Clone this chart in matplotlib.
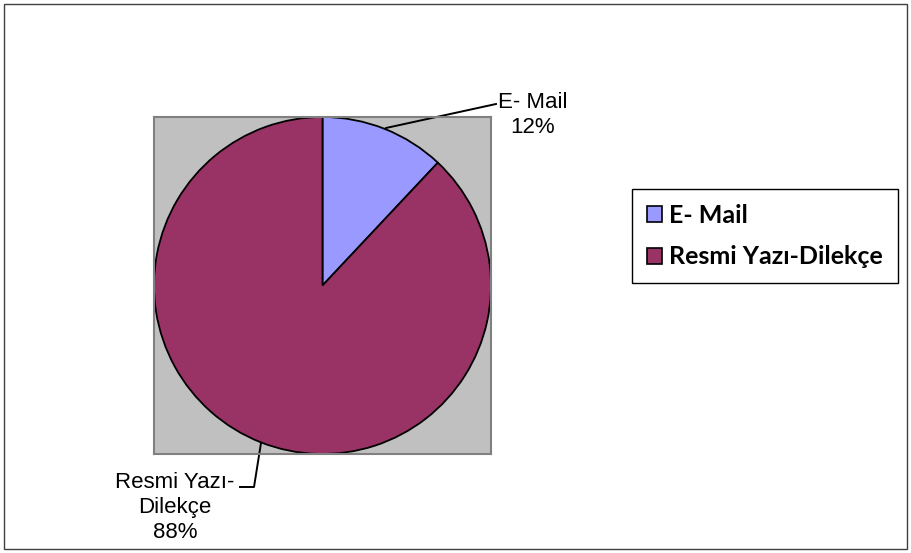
import matplotlib.pyplot as plt
from matplotlib.patches import Rectangle, Patch

labels = ['E- Mail', 'Resmi Yazı-Dilekçe']
shares = [12, 88]
colors = ['#9999FF', '#993366']
label_text = ['E- Mail\n12%', 'Resmi Yazı-\nDilekçe\n88%']

W, H = 911, 553
fig = plt.figure(figsize=(W / 100, H / 100), dpi=100)
fig.patches.append(Rectangle((4 / W, 4 / H), 903 / W, 545 / H, transform=fig.transFigure,
                             fill=False, edgecolor='#404040', lw=1))

ax = fig.add_axes([154 / W, (H - 454) / H, 337 / W, 337 / H])
wedges, _ = ax.pie(shares, colors=colors, startangle=90, counterclock=False, radius=1,
                   frame=True, wedgeprops=dict(edgecolor='black', linewidth=1.3))
ax.set_facecolor('#C0C0C0')
ax.set_frame_on(True)
for s in ax.spines.values():
    s.set_visible(True)
    s.set_color('#808080')
    s.set_linewidth(1.5)
ax.set_xlim(-1, 1)
ax.set_ylim(-1, 1)
ax.set_xticks([])
ax.set_yticks([])


def px(x, y):
    return (x - 322.5) / 168.5, (285.5 - y) / 168.5


lab_font = dict(family='Liberation Sans', fontsize=16, color='black')
# E-mail leader
a = px(386, 128)
b = px(496, 104)
ax.plot([a[0], b[0]], [a[1], b[1]], color='black', lw=1.4, clip_on=False)
tx, ty = px(533, 115)
ax.text(tx, ty, label_text[0], ha='center', va='center', linespacing=1.3, **lab_font)
# Resmi leader
a = px(261, 443)
b = px(254, 487)
c = px(240, 487)
ax.plot([a[0], b[0], c[0]], [a[1], b[1], c[1]], color='black', lw=1.4, clip_on=False)
tx, ty = px(175, 507)
ax.text(tx, ty, label_text[1], ha='center', va='center', linespacing=1.25, **lab_font)

handles = [Patch(facecolor=c, edgecolor='black', lw=1.2) for c in colors]
leg = fig.legend(handles, labels, loc='center', bbox_to_anchor=(765 / W, 1 - 236 / H),
                 frameon=True, fancybox=False, edgecolor='black', framealpha=1,
                 prop=dict(family='Lato', weight='bold', size=18),
                 handlelength=0.6, handleheight=0.6, handletextpad=0.3,
                 labelspacing=0.75, borderpad=0.6, borderaxespad=0)
leg.get_frame().set_linewidth(1)

fig.savefig('out.png', dpi=100)
